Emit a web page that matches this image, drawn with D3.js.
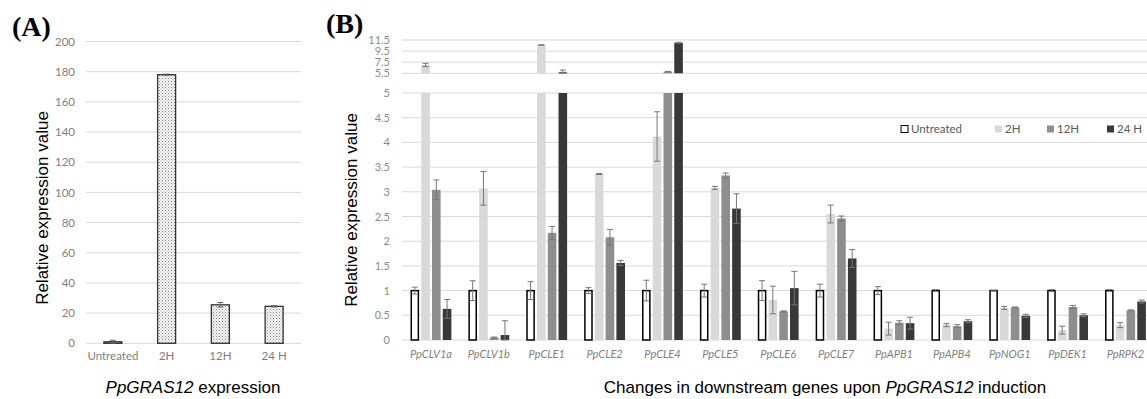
<!DOCTYPE html>
<html><head><meta charset="utf-8">
<script src="https://cdn.jsdelivr.net/npm/d3@7"></script>
<style>
body{margin:0;background:#fff;}
svg{display:block;}
</style></head>
<body>
<svg id="chart" width="1147" height="399"></svg>
<script>
// ---------- Panel A data ----------
const catsA = ["Untreated", "2H", "12H", "24 H"];
const valuesA = [1.0, 178, 25.5, 24.5];
const errorsA = [1.0, 0.4, 1.5, 0.4];
const ticksA = [0, 20, 40, 60, 80, 100, 120, 140, 160, 180, 200];

// ---------- Panel B data ----------
const genes = ["PpCLV1a","PpCLV1b","PpCLE1","PpCLE2","PpCLE4","PpCLE5","PpCLE6","PpCLE7","PpAPB1","PpAPB4","PpNOG1","PpDEK1","PpRPK2"];
const seriesNames = ["Untreated", "2H", "12H", "24 H"];
const untreated = [1,1,1,1,1,1,1,1,1,1,1,1,1];
const untreatedErr = [0.07,0.2,0.18,0.06,0.21,0.13,0.2,0.13,0.08,0.02,0.01,0.02,0.02];
const h2 = [7.0,3.07,10.6,3.36,4.12,3.08,0.81,2.55,0.23,0.3,0.65,0.2,0.3];
const h2Err = [0.3,0.34,0.05,0.01,0.5,0.03,0.28,0.18,0.13,0.03,0.03,0.08,0.05];
const h12 = [3.04,0.05,2.17,2.08,5.79,3.33,0.58,2.46,0.35,0.28,0.66,0.67,0.6];
const h12Err = [0.2,0.01,0.13,0.16,0.05,0.05,0.01,0.05,0.04,0.03,0.01,0.03,0.01];
const h24 = [0.63,0.1,5.68,1.56,11.0,2.66,1.05,1.65,0.34,0.38,0.49,0.5,0.78];
const h24Err = [0.19,0.29,0.4,0.05,0.08,0.3,0.34,0.18,0.12,0.03,0.03,0.03,0.03];
const lowerTicks = [0,0.5,1,1.5,2,2.5,3,3.5,4,4.5,5];
const upperTicks = [5.5,7.5,9.5,11.5];

const seriesVals = [untreated, h2, h12, h24];
const seriesErrs = [untreatedErr, h2Err, h12Err, h24Err];
const seriesFill = ["#ffffff", "#d9d9d9", "#8e8e8e", "#383838"];

const svg = d3.select("#chart");
svg.append("rect").attr("width",1147).attr("height",399).attr("fill","#fff");

const tickFont = "Lato, 'Open Sans', sans-serif";
const titleFont = "'Liberation Sans', Arial, sans-serif";

// pattern for panel A
const defs = svg.append("defs");
const pat = defs.append("pattern").attr("id","dots").attr("patternUnits","userSpaceOnUse")
  .attr("width",3).attr("height",3);
pat.append("rect").attr("width",3).attr("height",3).attr("fill","#f4f4f4");
pat.append("rect").attr("x",0).attr("y",0).attr("width",1).attr("height",1).attr("fill","#8a8a8a");
pat.append("rect").attr("x",1.5).attr("y",1.5).attr("width",1).attr("height",1).attr("fill","#b0b0b0");

// ================= Panel A =================
const xA = d3.scaleBand().domain(catsA).range([86, 301]).paddingInner(0.665).paddingOuter(0.3325);
const yA = d3.scaleLinear().domain([0, 200]).range([343.3, 41.5]);
const gA = svg.append("g");

gA.selectAll("line.grid").data(ticksA).enter().append("line")
  .attr("x1", 86).attr("x2", 301)
  .attr("y1", d => yA(d)).attr("y2", d => yA(d))
  .attr("stroke", "#d9d9d9").attr("stroke-width", 1);

const axA = d3.axisLeft(yA).tickValues(ticksA).tickSize(0).tickPadding(0);
const axAg = gA.append("g").attr("transform","translate(75,0)").call(axA);
axAg.select(".domain").remove();
axAg.selectAll("text").attr("font-family", tickFont).attr("font-size", 11.5).attr("fill", "#7f7f7f");

gA.selectAll("rect.bar").data(catsA).enter().append("rect")
  .attr("x", d => xA(d)).attr("width", xA.bandwidth())
  .attr("y", (d,i) => yA(valuesA[i]))
  .attr("height", (d,i) => yA(0) - yA(valuesA[i]))
  .attr("fill", "url(#dots)").attr("stroke", "#333").attr("stroke-width", 1.3);

catsA.forEach((c,i) => {
  const cx = xA(c) + xA.bandwidth()/2;
  const v = valuesA[i], e = errorsA[i];
  gA.append("line").attr("x1",cx).attr("x2",cx).attr("y1",yA(v+e)).attr("y2",yA(Math.max(0,v-e)))
    .attr("stroke","#666").attr("stroke-width",1);
  [v+e, Math.max(0,v-e)].forEach(t => gA.append("line").attr("x1",cx-3).attr("x2",cx+3)
    .attr("y1",yA(t)).attr("y2",yA(t)).attr("stroke","#666").attr("stroke-width",1));
});

const axAx = d3.axisBottom(xA).tickSize(0).tickPadding(0);
const axAxg = gA.append("g").attr("transform","translate(0,352)").call(axAx);
axAxg.select(".domain").remove();
axAxg.selectAll("text").attr("font-family", tickFont).attr("font-size", 11.5).attr("fill", "#7f7f7f");

gA.append("text").attr("transform","translate(48,208) rotate(-90)").attr("text-anchor","middle")
  .attr("font-family", titleFont).attr("font-size", 17).attr("fill","#000").text("Relative expression value");
const tA = gA.append("text").attr("x",193).attr("y",393).attr("text-anchor","middle")
  .attr("font-family", titleFont).attr("font-size", 17).attr("fill","#000");
tA.append("tspan").attr("font-style","italic").text("PpGRAS12");
tA.append("tspan").text(" expression");

svg.append("text").attr("x",12).attr("y",36).attr("font-family","'Liberation Serif', 'Times New Roman', serif")
  .attr("font-weight","bold").attr("font-size",28).text("(A)");

// ================= Panel B =================
const xB = d3.scaleBand().domain(genes).range([402, 1154.4]).padding(0);
const groupW = 40.85;
const xS = d3.scaleBand().domain(seriesNames).range([0, groupW]).paddingInner(0.2).paddingOuter(0);
const yB = d3.scaleLinear().domain([0, 5, 5.5, 11.5]).range([340, 93, 73.3, 40]);
const gB = svg.append("g");

gB.selectAll("line.gl").data(lowerTicks.concat(upperTicks)).enter().append("line")
  .attr("x1", 402).attr("x2", 1147)
  .attr("y1", d => yB(d)).attr("y2", d => yB(d))
  .attr("stroke", "#d9d9d9").attr("stroke-width", 1);

const fmt = d => String(d);
const axBL = d3.axisLeft(yB).tickValues(lowerTicks).tickFormat(fmt).tickSize(0).tickPadding(0);
const axBU = d3.axisLeft(yB).tickValues(upperTicks).tickFormat(fmt).tickSize(0).tickPadding(0);
[axBL, axBU].forEach(ax => {
  const g = gB.append("g").attr("transform","translate(390,0)").call(ax);
  g.select(".domain").remove();
  g.selectAll("text").attr("font-family", tickFont).attr("font-size", 11).attr("fill", "#8c8c8c");
});

const groups = gB.selectAll("g.grp").data(genes).enter().append("g")
  .attr("transform", d => `translate(${xB(d) + xB.bandwidth()/2 - groupW/2},0)`);

seriesNames.forEach((s, si) => {
  groups.each(function(gene, gi) {
    const g = d3.select(this);
    const v = seriesVals[si][gi];
    const e = seriesErrs[si][gi];
    const x0 = xS(s), w = xS.bandwidth();
    const isU = si === 0;
    const segs = v > 5 ? [[0,5],[5.5,v]] : [[0,v]];
    segs.forEach(([a,b]) => {
      g.append("rect").attr("x", isU ? x0+0.75 : x0).attr("width", isU ? w-1.5 : w)
        .attr("y", yB(b)).attr("height", Math.max(0, yB(a) - yB(b)))
        .attr("fill", seriesFill[si])
        .attr("stroke", isU ? "#000" : "none").attr("stroke-width", isU ? 1.5 : 0);
    });
    const cx = x0 + w/2;
    const hi = v + e;
    const lo = v > 5.5 ? Math.max(5.5, v - e) : Math.max(0, v - e);
    g.append("line").attr("x1",cx).attr("x2",cx).attr("y1",yB(hi)).attr("y2",yB(lo))
      .attr("stroke","#777").attr("stroke-width",1);
    [hi, lo].forEach(t => g.append("line").attr("x1",cx-3).attr("x2",cx+3)
      .attr("y1",yB(t)).attr("y2",yB(t)).attr("stroke","#777").attr("stroke-width",1));
  });
});

const axBx = d3.axisBottom(xB).tickSize(0).tickPadding(0);
const axBxg = gB.append("g").attr("transform","translate(0,350)").call(axBx);
axBxg.select(".domain").remove();
axBxg.selectAll("text").attr("font-family", tickFont).attr("font-size", 11).attr("font-style","italic").attr("fill", "#7f7f7f");

// legend
const legX = [901, 995, 1047, 1107];
seriesNames.forEach((s, i) => {
  svg.append("rect").attr("x", legX[i]).attr("y", 125.5).attr("width", 7).attr("height", 7)
    .attr("fill", seriesFill[i]).attr("stroke", i===0 ? "#000" : "none").attr("stroke-width", 1);
  svg.append("text").attr("x", legX[i] + 10).attr("y", 133).attr("font-family", tickFont)
    .attr("font-size", 11.5).attr("fill", "#595959").text(s);
});

gB.append("text").attr("transform","translate(357,210) rotate(-90)").attr("text-anchor","middle")
  .attr("font-family", titleFont).attr("font-size", 17).attr("fill","#000").text("Relative expression value");
const tB = gB.append("text").attr("x",825).attr("y",393).attr("text-anchor","middle")
  .attr("font-family", titleFont).attr("font-size", 17).attr("fill","#000");
tB.append("tspan").text("Changes in downstream genes upon ");
tB.append("tspan").attr("font-style","italic").text("PpGRAS12");
tB.append("tspan").text(" induction");

svg.append("text").attr("x",326).attr("y",33).attr("font-family","'Liberation Serif', 'Times New Roman', serif")
  .attr("font-weight","bold").attr("font-size",28).text("(B)");
</script>
</body></html>
